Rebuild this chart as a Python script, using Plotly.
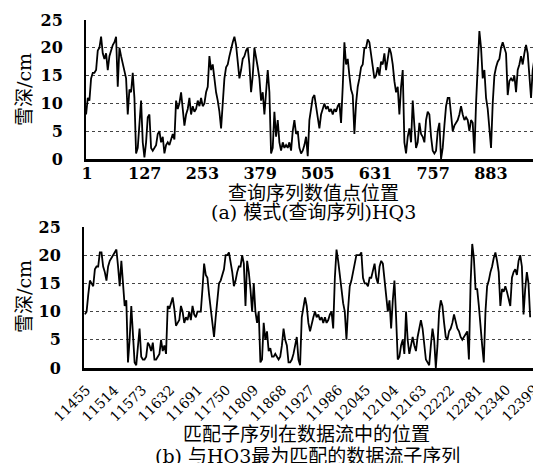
import numpy as np
import plotly.graph_objects as go

# ---- data ----
query_vals = [
    8, 11, 10.5, 14.5, 15.5, 15.5, 16, 19.5, 20, 22, 19, 18, 19, 16, 18.5, 19.5, 20.5, 21, 22, 13,
    20, 18.5, 17, 15.5, 14.5, 8, 12.5, 12, 15.5, 11, 1, 2, 7, 10.5, 3, 0.3, 3, 7.5, 8, 2,
    1.5, 2, 2.5, 4.5, 5, 3, 4, 1, 2.5, 3, 2.5, 3.5, 4.5, 3.5, 10.5, 9, 10, 12, 9, 6,
    8, 9, 11, 8, 9.5, 8.5, 9, 10.5, 9.5, 11, 9.5, 10, 12, 13, 18.5, 16, 17, 14, 12, 10.5,
    8.5, 5.5, 11, 14.5, 16.5, 17, 18.5, 20, 21, 22, 20.5, 17.5, 14.5, 16, 18, 18.5, 19.5, 20, 17, 12,
    15, 20, 18.5, 16.5, 14.5, 10.5, 12, 8, 12, 16, 12,
    1, 2, 8.5, 4, 7, 3, 1.5, 3, 2, 2.5, 2, 3, 1.5, 5, 7, 4.5, 5, 2, 1, 1.5,
    2.5, 4, 0.5, 7, 9.5, 11, 11.5, 9, 7.5, 5.5, 8, 9, 10, 9, 9.5, 8.5, 9, 8, 9, 8.5,
    9.5, 10, 6.5, 13, 21, 17, 18, 15, 12.5, 11.5, 4.5, 10, 13, 14.5, 16.5, 17, 20, 20, 21.5, 21,
    19, 17, 14.5, 15, 16.5, 15, 17.5, 17, 19, 16, 18, 20, 19, 17, 14, 12, 13, 8, 13, 16,
    3, 1, 4, 5.5, 3, 10.5, 6, 2, 3, 6.5, 4.5, 4, 3, 7, 8.5, 8, 4, 1.5, 1, 1.5,
    5, 6.5, 0, 2, 6, 9.5, 11, 11, 8, 5, 6, 6.5, 7, 8, 9.5, 8, 7, 7.5, 7, 5,
    7, 6.5, 1, 10, 18, 23, 20, 14.5, 16, 11, 9, 5, 2, 10, 15, 16.5, 17.5, 18, 20, 21,
    20, 19, 11.5, 14, 14.5, 14, 15, 12, 16, 17, 18.5, 17, 19, 20.5, 19, 15, 11, 16, 18,
]

match_vals = [
    9.5, 10, 13, 15.5, 15, 14.5, 17.5, 18, 18, 20.5, 20.5, 18, 17, 15.5, 18, 19, 19.5, 20, 20.5, 21,
    18, 14.5, 19, 15, 11, 12, 1, 5, 11, 6, 1, 0.5, 4, 7, 2, 1.5, 1.5, 2, 4.5, 4,
    3, 4.5, 1.5, 1.5, 2, 2.5, 5, 3, 4, 2.5, 11, 10.5, 11.5, 12.5, 10.5, 7.5, 8, 8.5, 11, 10,
    8, 9, 8.5, 10, 8.5, 11, 9.5, 9, 10, 10, 10, 14, 18.5, 16.5, 16, 13, 10.5, 8.5, 5.5, 9,
    12, 15, 15.5, 16.5, 17.5, 20, 20, 20.5, 19, 17, 14.5, 15.5, 17, 18, 18, 20, 18.5, 11, 19, 17,
    14, 10, 15, 10, 8, 10,
    1, 1.5, 8, 5, 6.5, 3, 3.5, 2, 2, 2.5, 2, 1.5, 2, 4, 7, 5, 4, 1, 1, 1.5,
    2.5, 4, 5.5, 1.5, 0.5, 9, 11, 12.5, 11, 8, 6.5, 8, 9, 10, 9, 9.5, 8.5, 9, 8, 9,
    8, 8.5, 9.5, 10, 7, 16, 21, 19, 16.5, 13, 11.5, 10, 5, 10.5, 14.5, 15.5, 17, 18, 20, 20,
    20, 20.5, 16, 15, 15, 14.5, 16, 16, 17.5, 18.5, 16, 15, 18, 19, 18.5, 16, 13, 10, 12, 7,
    12, 15.5, 9, 1.5, 2, 4, 5, 2.5, 10, 5, 2.5, 4, 5.5, 4, 3, 5.5, 7, 8.5, 7, 3.5,
    1.5, 1, 0.5, 4, 7, 5, 0, 4, 10, 12, 11, 8, 5.5, 5, 6.5, 7, 8, 9.5, 8, 7,
    6.5, 5.5, 5, 5.5, 6, 6.5, 1.5, 15, 22, 19.5, 14, 14, 11, 7, 4, 1, 10, 14.5, 15.5, 17,
    18, 19.5, 20.5, 19, 17, 11, 14, 13.5, 14.5, 13.5, 12, 11, 16, 17, 17.5, 16.5, 19, 20, 18, 9.5,
    14, 17, 15, 9,
]

query_pos = np.linspace(-1, 978, len(query_vals))
match_pos = np.linspace(11455, 12394, len(match_vals))

query_ticks = [1, 127, 253, 379, 505, 631, 757, 883]
match_ticks = list(range(11455, 12400, 59))
y_ticks = [0, 5, 10, 15, 20, 25]

W, H = 533, 463

def px(x):
    return x / W

def py(y):
    return 1 - y / H

fig = go.Figure()
fig.add_trace(go.Scatter(x=query_pos, y=query_vals, mode="lines",
                         line=dict(color="black", width=1.8), xaxis="x", yaxis="y",
                         showlegend=False, hoverinfo="skip"))
fig.add_trace(go.Scatter(x=match_pos, y=match_vals, mode="lines",
                         line=dict(color="black", width=1.8), xaxis="x2", yaxis="y2",
                         showlegend=False, hoverinfo="skip"))

tickfont = dict(family="DejaVu Serif", size=16, color="black", weight="bold")
yaxis_common = dict(range=[0, 25], tickvals=y_ticks, showgrid=True, gridcolor="#444",
                    griddash="dot", gridwidth=1, zeroline=False, showline=True,
                    linecolor="black", linewidth=2, tickfont=tickfont, ticks="",
                    ticklabelstandoff=18, automargin=False)
xaxis_common = dict(showgrid=False, zeroline=False, showline=True, linecolor="black",
                    linewidth=3, ticks="", tickfont=tickfont, tickformat="d",
                    automargin=False)

fig.update_layout(
    width=W, height=H,
    margin=dict(l=0, r=0, t=0, b=0),
    paper_bgcolor="white", plot_bgcolor="white",
    xaxis=dict(domain=[px(86), 1], range=[-1.2, 975], tickvals=query_ticks,
               anchor="y", ticklabelstandoff=-2, **xaxis_common),
    yaxis=dict(domain=[py(159), py(20)], anchor="x", **yaxis_common),
    xaxis2=dict(domain=[px(84), 1], range=[11453, 12400], tickvals=match_ticks,
                showticklabels=False, anchor="y2", **xaxis_common),
    yaxis2=dict(domain=[py(368), py(227)], anchor="x2", **yaxis_common),
)

# rotated tick labels of the lower axis, placed like the reference
for t in match_ticks:
    fig.add_annotation(xref="x2", yref="paper", x=t, y=py(379), text=str(t),
                       textangle=-45, showarrow=False, xanchor="right", yanchor="top",
                       xshift=12,
                       font=dict(family="DejaVu Serif", size=14, color="black"))

capfont = dict(family="DejaVu Serif, Noto Sans CJK SC", size=19, color="black")
ann = [
    dict(text="查询序列数值点位置", x=px(313), y=py(193)),
    dict(text="(a) 模式(查询序列)HQ3", x=px(313), y=py(212)),
    dict(text="匹配子序列在数据流中的位置", x=px(306), y=py(434)),
    dict(text="(b) 与HQ3最为匹配的数据流子序列", x=px(307), y=py(456)),
    dict(text="雪深/cm", x=px(24), y=py(90), textangle=-90),
    dict(text="雪深/cm", x=px(24), y=py(297), textangle=-90),
]
for a in ann:
    fig.add_annotation(xref="paper", yref="paper", showarrow=False,
                       xanchor="center", yanchor="middle", font=capfont, **a)

fig.write_html("out.html", config={"displayModeBar": False},
               post_script="document.body.style.margin='0';document.body.style.overflow='hidden';")
